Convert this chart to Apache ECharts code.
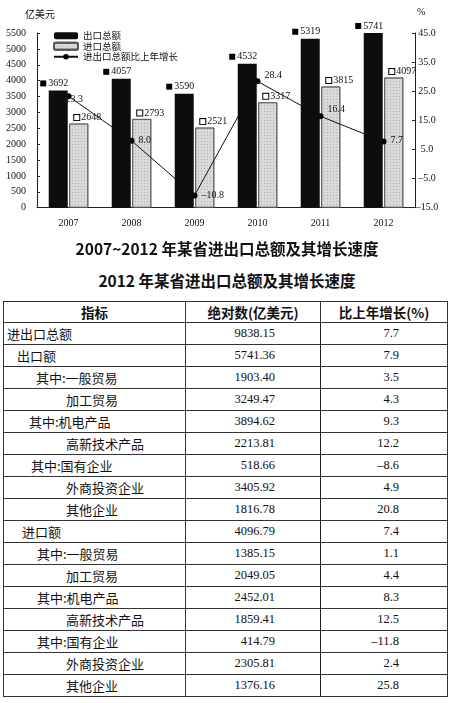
<!DOCTYPE html>
<html>
<head>
<meta charset="utf-8">
<script src="https://cdn.jsdelivr.net/npm/echarts@6/dist/echarts.min.js"></script>
<style>
  html, body { margin:0; padding:0; background:#fff; }
  body { width:454px; height:703px; overflow:hidden; position:relative; font-family:"Noto Sans CJK SC", sans-serif; }
  #chart { position:absolute; left:0; top:0; width:454px; height:262px; }
  #title2 { position:absolute; left:0; top:269px; width:454px; text-align:center; font-size:15.5px; font-weight:bold; color:#111; line-height:22px; }
  table { position:absolute; left:3px; top:301px; width:444px; border-collapse:collapse; table-layout:fixed; border:1.5px solid #222; color:#111; }
  td, th { border:1px solid #333; padding:0; white-space:nowrap; overflow:hidden; }
  th { height:19px; font-size:13.5px; font-weight:bold; text-align:center; }
  td { height:21px; font-size:13px; }
  td.num { font-family:"Liberation Serif", serif; font-size:12.5px; text-align:right; }
  td.c2 { padding-right:45px; border-right:1.5px solid #222; }
  td.c3 { padding-right:48px; }
</style>
</head>
<body>
<div id="chart"></div>
<div id="title2">2012 年某省进出口总额及其增长速度</div>
<table id="tbl">
  <colgroup><col style="width:182px"><col style="width:135px"><col style="width:127px"></colgroup>
  <thead><tr id="hdr"></tr></thead>
  <tbody id="tb"></tbody>
</table>
<script>
// ---- Chart data ----
const years = ['2007', '2008', '2009', '2010', '2011', '2012'];
const exportTotal = [3692, 4057, 3590, 4532, 5319, 5741];
const importTotal = [2648, 2793, 2521, 3317, 3815, 4097];
const growthRate = [23.3, 8.0, -10.8, 28.4, 16.4, 7.7];
const leftTicks = { min: 0, max: 5500, step: 500 };
const rightTicks = { min: -15, max: 45, step: 10 };

// ---- Table data ----
const tableHeaders = ['指标', '绝对数(亿美元)', '比上年增长(%)'];
const rowNames = ['进出口总额', '出口额', '其中:一般贸易', '加工贸易', '其中:机电产品', '高新技术产品',
  '其中:国有企业', '外商投资企业', '其他企业', '进口额', '其中:一般贸易', '加工贸易',
  '其中:机电产品', '高新技术产品', '其中:国有企业', '外商投资企业', '其他企业'];
const rowAbsolute = ['9838.15', '5741.36', '1903.40', '3249.47', '3894.62', '2213.81',
  '518.66', '3405.92', '1816.78', '4096.79', '1385.15', '2049.05',
  '2452.01', '1859.41', '414.79', '2305.81', '1376.16'];
const rowGrowth = ['7.7', '7.9', '3.5', '4.3', '9.3', '12.2',
  '–8.6', '4.9', '20.8', '7.4', '1.1', '4.4',
  '8.3', '12.5', '–11.8', '2.4', '25.8'];

// ---- styling (indentation of table row labels, px) ----
const indentPx = [3, 13, 32, 62, 25, 62, 27, 62, 62, 18, 33, 62, 33, 62, 33, 62, 62];
const lineLabelOffset = [[-10, 3], [0, 0], [0, 0], [0, -6], [0, -7], [0, -1]];

// build table
const hdr = document.getElementById('hdr');
tableHeaders.forEach(h => { const th = document.createElement('th'); th.textContent = h; hdr.appendChild(th); });
const tb = document.getElementById('tb');
rowNames.forEach((n, i) => {
  const tr = document.createElement('tr');
  const a = document.createElement('td'); a.textContent = n; a.style.paddingLeft = indentPx[i] + 'px';
  const b = document.createElement('td'); b.className = 'num c2'; b.textContent = rowAbsolute[i];
  const c = document.createElement('td'); c.className = 'num c3'; c.textContent = rowGrowth[i];
  tr.appendChild(a); tr.appendChild(b); tr.appendChild(c); tb.appendChild(tr);
});

const serif = '"Liberation Serif", "Noto Sans CJK SC", serif';
const cjk = '"Noto Sans CJK SC", sans-serif';
const chart = echarts.init(document.getElementById('chart'), null, { renderer: 'canvas' });
chart.setOption({
  animation: false,
  backgroundColor: '#fff',
  title: {
    text: '2007~2012 年某省进出口总额及其增长速度',
    left: 'center', top: 236,
    textStyle: { fontFamily: cjk, fontSize: 15.5, fontWeight: 'bold', color: '#111' }
  },
  legend: {
    orient: 'vertical', left: 48, top: 26, itemWidth: 24, itemHeight: 7, itemGap: 1,
    textStyle: { fontFamily: cjk, fontSize: 9.5, color: '#111' },
    data: ['出口总额', '进口总额', '进出口总额比上年增长']
  },
  grid: { left: 37, right: 39, top: 33, bottom: 54.3 },
  xAxis: {
    type: 'category', data: years,
    axisLine: { lineStyle: { color: '#222', width: 1 } },
    axisTick: { inside: true, length: 3, lineStyle: { color: '#222' } },
    axisLabel: { fontFamily: serif, fontSize: 10, color: '#111', margin: 11 }
  },
  yAxis: [
    {
      type: 'value', min: leftTicks.min, max: leftTicks.max, interval: leftTicks.step,
      name: '亿美元', nameLocation: 'end', nameGap: 14,
      nameTextStyle: { fontFamily: cjk, fontSize: 10, color: '#111', align: 'center', padding: [0, 0, 0, 6] },
      axisLine: { show: true, lineStyle: { color: '#222', width: 1 } },
      axisTick: { show: true, inside: true, length: 3, lineStyle: { color: '#222' } },
      splitLine: { show: false },
      axisLabel: { fontFamily: serif, fontSize: 10, color: '#111', margin: 11, formatter: v => String(v) }
    },
    {
      type: 'value', min: rightTicks.min, max: rightTicks.max, interval: rightTicks.step,
      name: '%', nameLocation: 'end', nameGap: 16,
      nameTextStyle: { fontFamily: serif, fontSize: 10, color: '#111', align: 'left', padding: [0, 0, 0, 2] },
      axisLine: { show: true, lineStyle: { color: '#222', width: 1 } },
      axisTick: { show: true, inside: true, length: 3, lineStyle: { color: '#222' } },
      splitLine: { show: false },
      axisLabel: { fontFamily: serif, fontSize: 10, color: '#111', margin: 12, align: 'center',
        formatter: v => v.toFixed(1).replace('-', '–') }
    }
  ],
  series: [
    {
      name: '出口总额', type: 'bar', data: exportTotal, barWidth: 19, barGap: '8%', z: 3,
      itemStyle: { color: '#0d0d0d' },
      label: {
        show: true, position: 'top', distance: 2, offset: [-4, 0],
        formatter: p => '{s| }{v|' + p.value + '}',
        rich: {
          s: { width: 6, height: 6, backgroundColor: '#000' },
          v: { fontFamily: serif, fontSize: 10, color: '#111', padding: [0, 0, 0, 2] }
        }
      }
    },
    {
      name: '进口总额', type: 'bar', data: importTotal, barWidth: 19, z: 1,
      itemStyle: { color: '#dadada', borderColor: '#555', borderWidth: 0.8,
        decal: { symbol: 'rect', symbolSize: 0.9, color: 'rgba(90,90,90,0.35)', dashArrayX: [1, 2], dashArrayY: [1, 2], rotation: 0 } },
      label: {
        show: true, position: 'top', distance: 1, offset: [9, 0],
        formatter: p => '{s| }{v|' + p.value + '}',
        rich: {
          s: { width: 5, height: 5, backgroundColor: '#fff', borderColor: '#000', borderWidth: 1 },
          v: { fontFamily: serif, fontSize: 10, color: '#111', padding: [0, 0, 0, 2] }
        }
      }
    },
    {
      name: '进出口总额比上年增长', type: 'line', yAxisIndex: 1, z: 2,
      data: growthRate.map((v, i) => ({ value: v, label: { offset: lineLabelOffset[i] } })),
      symbol: 'circle', symbolSize: 6,
      lineStyle: { color: '#111', width: 1 },
      itemStyle: { color: '#000' },
      label: {
        show: true, position: 'right', distance: 4,
        fontFamily: serif, fontSize: 10, color: '#111',
        formatter: p => p.value.toFixed(1).replace('-', '–')
      }
    }
  ]
});
</script>
</body>
</html>
